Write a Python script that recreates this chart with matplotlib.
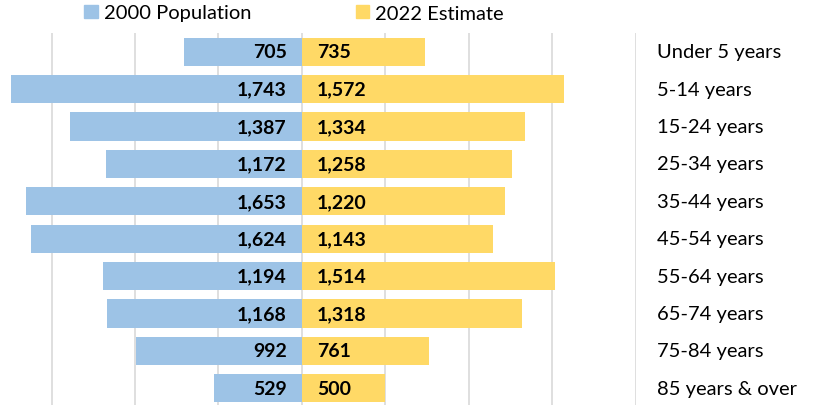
import matplotlib.pyplot as plt
from matplotlib.patches import Patch

plt.rcParams['font.family'] = ['Lato', 'DejaVu Sans']

categories = ['Under 5 years', '5-14 years', '15-24 years', '25-34 years', '35-44 years',
              '45-54 years', '55-64 years', '65-74 years', '75-84 years', '85 years & over']
pop_2000 = [705, 1743, 1387, 1172, 1653, 1624, 1194, 1168, 992, 529]
est_2022 = [735, 1572, 1334, 1258, 1220, 1143, 1514, 1318, 761, 500]

BLUE = '#9DC3E6'
YELLOW = '#FFD966'
GRID = '#D9D9D9'

fig = plt.figure(figsize=(8.17, 4.06), dpi=100)
W, H = 817, 406
ax = fig.add_axes([0 / W, -2 / H, 636 / W, (406 - 32) / H])

y = list(range(len(categories)))
ax.barh(y, [-v for v in pop_2000], height=0.75, color=BLUE, zorder=2)
ax.barh(y, est_2022, height=0.75, color=YELLOW, zorder=2)

for i, (a, b) in enumerate(zip(pop_2000, est_2022)):
    ax.annotate(f'{a:,}', (0, i), xytext=(-11, 0), textcoords='offset points',
                ha='right', va='center', fontsize=14, fontweight='bold', zorder=3)
    ax.annotate(f'{b:,}', (0, i), xytext=(11, 0), textcoords='offset points',
                ha='left', va='center', fontsize=14, fontweight='bold', zorder=3)
    ax.text(1.033, i, categories[i], transform=ax.get_yaxis_transform(),
            ha='left', va='center', fontsize=14.5)

for g in range(-1500, 2001, 500):
    ax.axvline(g, color=GRID, lw=1.2, zorder=1)

ax.set_xlim(-1809, 2002)
ax.set_ylim(len(categories) - 0.5, -0.5)
ax.axis('off')

handles = [Patch(color=BLUE, label='2000 Population'), Patch(color=YELLOW, label='2022 Estimate')]
fig.legend(handles=handles, loc='center', bbox_to_anchor=(294 / W, 1 - 14 / H), ncol=2,
           frameon=False, fontsize=14.5, handlelength=0.65, handleheight=0.65,
           handletextpad=0.3, columnspacing=5.2)

fig.savefig('out.png', dpi=100)
